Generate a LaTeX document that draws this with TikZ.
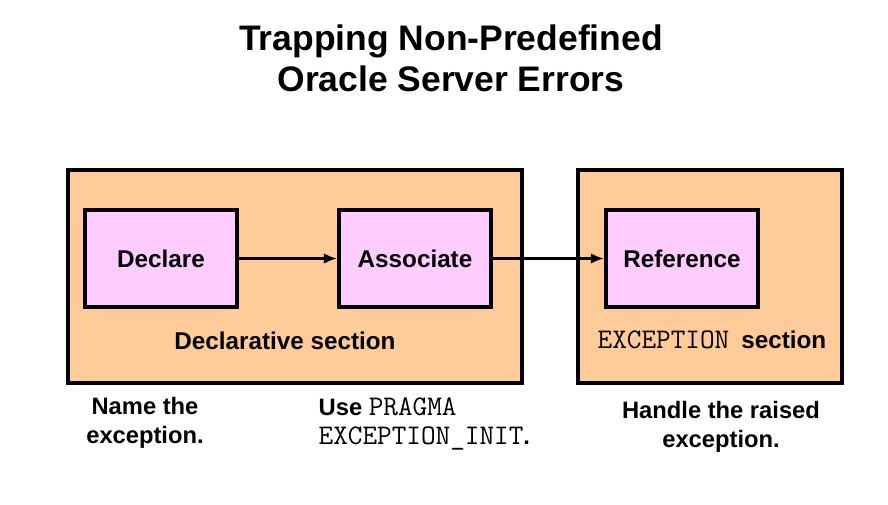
\documentclass[tikz,border=0pt]{standalone}
\usepackage{fontspec}
\setmainfont{Liberation Sans}
\usetikzlibrary{arrows.meta}

\definecolor{peach}{RGB}{255,204,153}
\definecolor{lilac}{RGB}{255,204,255}

\begin{document}
\begin{tikzpicture}[x=0.75pt,y=0.75pt,yscale=-1,xscale=1,
	secbox/.style={draw, line width=2.8pt, fill=peach, inner sep=0pt},
	actbox/.style={draw, line width=2.8pt, fill=lilac, inner sep=0pt,
		minimum width=152*0.75pt, minimum height=97*0.75pt, font=\fontsize{18.2}{20}\bfseries},
	lbl/.style={font=\fontsize{17.8}{21.75}\selectfont\bfseries},
	flow/.style={line width=2.3pt, -{Latex[length=10pt,width=8pt]}}]
	\useasboundingbox (0,0) rectangle (888,504);
	
	%Title
	\node (title) [align=center, font=\fontsize{26.6}{30.75}\selectfont\bfseries] at (451,58) {Trapping Non-Predefined\\Oracle Server Errors};
	
	%Sections
	\node (decl) [secbox, minimum width=454*0.75pt, minimum height=213*0.75pt] at (295,276.5) {};
	\node (excp) [secbox, minimum width=264*0.75pt, minimum height=213*0.75pt] at (710,276.5) {};
	\node (decltxt) [lbl, font=\fontsize{18.2}{20}\bfseries] at (285,341) {Declarative section};
	\node (excptxt) [lbl, font=\fontsize{18.2}{20}\bfseries] at (712,340) {{\fontsize{21.3}{21}\mdseries\ttfamily EXCEPTION}\hspace{9pt}section};
	
	%Steps
	\node (declare) [actbox] at (161,258.5) {Declare};
	\node (assoc) [actbox] at (415,258.5) {Associate};
	\node (refer) [actbox] at (682,258.5) {Reference};
	
	%Arrows
	\draw [flow] (declare.east) -- (assoc.west);
	\draw [flow] (assoc.east) -- (refer.west);
	
	%Notes
	\node (nameit) [lbl, align=center] at (145,423) {Name the\\exception.};
	\node (pragma) [lbl, align=left, anchor=west] at (314,424) {Use {\fontsize{21.3}{21}\mdseries\ttfamily PRAGMA}\\{\fontsize{21.3}{21}\mdseries\ttfamily EXCEPTION\_INIT}.};
	\node (handle) [lbl, align=center] at (721,427) {Handle the raised\\exception.};
	
\end{tikzpicture}
\end{document}
